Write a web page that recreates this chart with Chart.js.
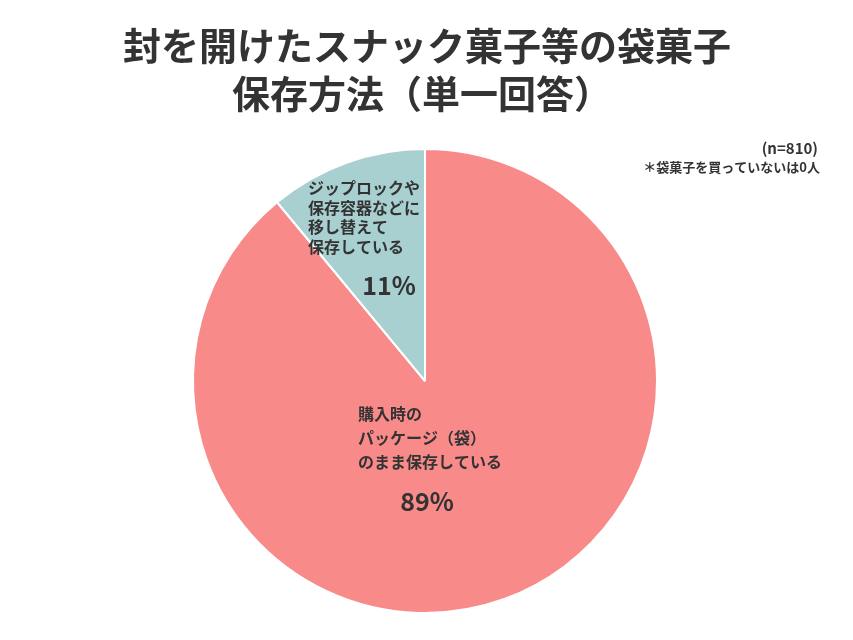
<!DOCTYPE html><html><head><meta charset="utf-8">
<script src="https://cdn.jsdelivr.net/npm/chart.js@4/dist/chart.umd.min.js"></script>
<style>html,body{margin:0;padding:0;background:#fff}#w{width:853px;height:640px}</style></head>
<body><div id="w"><canvas id="c"></canvas></div>
<script>
const titleLines = ["封を開けたスナック菓子等の袋菓子", "保存方法（単一回答）"];
const categories = ["購入時のパッケージ（袋）のまま保存している", "ジップロックや保存容器などに移し替えて保存している"];
const values = [89, 11];
const labelLines = [["購入時の","パッケージ（袋）","のまま保存している"],["ジップロックや","保存容器などに","移し替えて","保存している"]];
const notes = ["(n=810)", "＊袋菓子を買っていないは0人"];
const colors = ["#F88A8A", "#A8D0D0"];
const F = '"Noto Sans CJK JP", "Noto Sans", sans-serif';
const textPlugin = {
  id: 'txt',
  afterDraw(chart) {
    const ctx = chart.ctx;
    const arcs = chart.getDatasetMeta(0).data;
    const cx = arcs[0].x, cy = arcs[0].y;
    ctx.save();
    ctx.fillStyle = '#333';
    ctx.textBaseline = 'middle';
    ctx.textAlign = 'center';
    ctx.font = 'bold 38px ' + F;
    ctx.fillText(titleLines[0], 427, 46);
    ctx.fillText(titleLines[1], 422, 94);
    ctx.textAlign = 'right';
    ctx.font = 'bold 15px ' + F;
    ctx.fillText(notes[0], 818, 148);
    ctx.font = 'bold 13px ' + F;
    ctx.fillText(notes[1], 820, 167);
    ctx.textAlign = 'left';
    ctx.font = 'bold 16px ' + F;
    labelLines[1].forEach((l, i) => ctx.fillText(l, cx - 117, cy - 193 + i * 19.5));
    ctx.textAlign = 'center';
    ctx.font = 'bold 25px ' + F;
    ctx.fillText(values[1] + '%', cx - 36, cy - 96);
    ctx.textAlign = 'left';
    ctx.font = 'bold 16px ' + F;
    labelLines[0].forEach((l, i) => ctx.fillText(l, cx - 67, cy + 33 + i * 24));
    ctx.textAlign = 'center';
    ctx.font = 'bold 25px ' + F;
    ctx.fillText(values[0] + '%', cx + 2, cy + 120);
    ctx.restore();
  }
};
new Chart(document.getElementById('c'), {
  type: 'pie',
  data: { labels: categories, datasets: [{ data: values, backgroundColor: colors, borderColor: '#fff', borderWidth: 2 }] },
  options: {
    responsive: true, maintainAspectRatio: false, animation: false,
    layout: { padding: { top: 148, bottom: 26, left: 192, right: 195 } },
    plugins: { legend: { display: false }, tooltip: { enabled: false } }
  },
  plugins: [textPlugin]
});
</script></body></html>
